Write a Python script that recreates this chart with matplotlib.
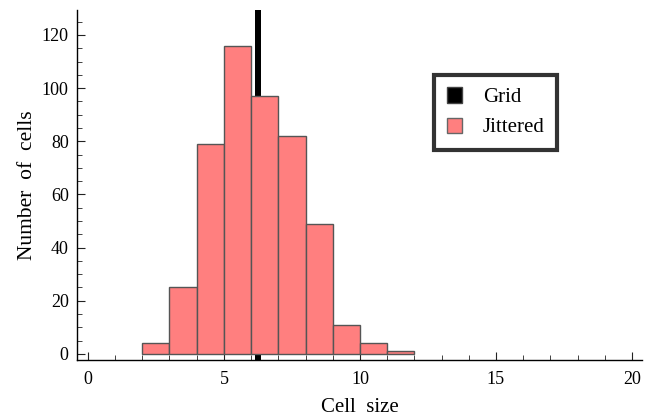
import matplotlib
matplotlib.use("Agg")
import matplotlib.pyplot as plt
from matplotlib.patches import Patch
from matplotlib.ticker import MultipleLocator

# jittered histogram: unit bins from 2 to 12
bin_edges = [2, 3, 4, 5, 6, 7, 8, 9, 10, 11, 12]
jittered_counts = [4, 25, 79, 116, 97, 82, 49, 11, 4, 1]

# regular grid: every cell has the same size
grid_size = 6.25
grid_width = 0.22
grid_count = 500  # off the top of the plot

legend_labels = ["Grid", "Jittered"]

plt.rcParams['font.family'] = ['Liberation Serif', 'DejaVu Serif']

fig = plt.figure(figsize=(6.52, 4.2), dpi=100)
ax = fig.add_axes([77 / 652, 60 / 420, 565 / 652, 350 / 420])

ymin, ymax = -2.3, 129.4
ax.set_xlim(-0.4, 20.37)
ax.set_ylim(ymin, ymax)

# grid bar first, pink bars drawn over it
ax.bar(grid_size, grid_count - ymin, bottom=ymin, width=grid_width,
       color='black', zorder=1)

lefts = bin_edges[:-1]
widths = [b - a for a, b in zip(bin_edges[:-1], bin_edges[1:])]
ax.bar(lefts, jittered_counts, width=widths, align='edge',
       color='#ff7f7f', edgecolor='#555555', linewidth=1.0, zorder=2)

for side in ('top', 'right'):
    ax.spines[side].set_visible(False)
for side in ('left', 'bottom'):
    ax.spines[side].set_linewidth(1.0)

ax.xaxis.set_major_locator(MultipleLocator(5))
ax.xaxis.set_minor_locator(MultipleLocator(1))
ax.yaxis.set_major_locator(MultipleLocator(20))
ax.yaxis.set_minor_locator(MultipleLocator(5))
ax.tick_params(which='both', direction='in', color='#222222', labelsize=13)
ax.tick_params(which='major', length=6, width=0.8)
ax.tick_params(which='minor', length=3.5, width=0.6)
ax.tick_params(axis='x', pad=8)
ax.tick_params(axis='y', pad=6)

ax.set_xlabel('Cell  size', fontsize=15, labelpad=7)
ax.set_ylabel('Number  of  cells', fontsize=15.5, labelpad=3)

handles = [Patch(facecolor='black', edgecolor='#444444'),
           Patch(facecolor='#ff7f7f', edgecolor='#666666')]
leg = ax.legend(handles, legend_labels, loc='upper left',
                bbox_to_anchor=(0.632, 0.815), fontsize=15, frameon=True,
                fancybox=False, handlelength=0.75, handleheight=0.75,
                handletextpad=1.0, borderpad=0.6, labelspacing=0.5,
                borderaxespad=0)
leg.get_frame().set_edgecolor('black')
leg.get_frame().set_linewidth(3)

fig.savefig('out.png', dpi=100)
